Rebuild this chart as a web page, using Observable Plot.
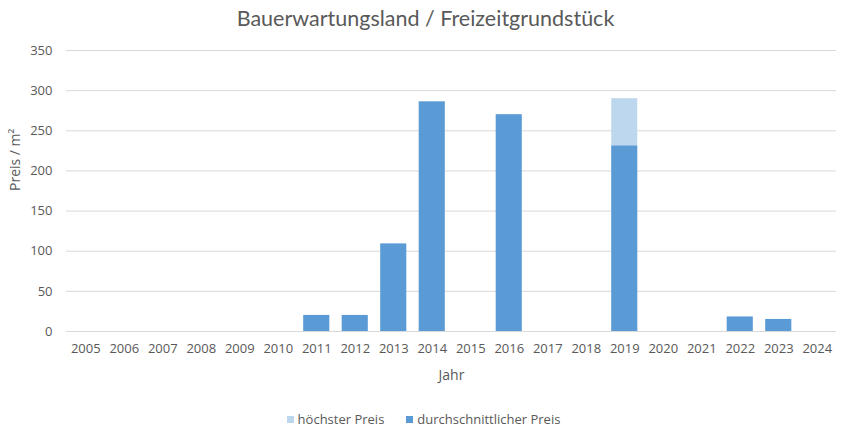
<!DOCTYPE html>
<html><head><meta charset="utf-8">
<script src="https://cdn.jsdelivr.net/npm/d3@7"></script>
<script src="https://cdn.jsdelivr.net/npm/@observablehq/plot@0.6"></script>
<style>
body{margin:0;background:#fff;font-family:"Open Sans",sans-serif;color:#595959;}
#title{height:36px;line-height:36px;text-align:center;font-family:Lato,"Open Sans",sans-serif;font-size:21.5px;color:#595959;padding-left:4px;}
#legend{display:flex;justify-content:center;gap:22px;font-size:13px;margin-top:14px;padding-left:0px;}
#legend span{display:inline-flex;align-items:center;}
#legend i{display:inline-block;width:7px;height:7px;margin-right:4px;}
</style></head><body>
<div id="title">Bauerwartungsland / Freizeitgrundstück</div>
<div id="chart"></div>
<div id="legend"></div>
<script>
const years = ["2005","2006","2007","2008","2009","2010","2011","2012","2013","2014","2015","2016","2017","2018","2019","2020","2021","2022","2023","2024"];
const highestPrice = [null,null,null,null,null,null,20,20,109,286,null,270,null,null,290,null,null,18,15,null];
const avgPrice     = [null,null,null,null,null,null,20,20,109,286,null,270,null,null,231,null,null,18,15,null];
const yTicks = [0,50,100,150,200,250,300,350];
const seriesNames = ["höchster Preis","durchschnittlicher Preis"];
const seriesColors = ["#bdd7ee","#5b9bd5"];

const hi = years.map((y,i)=>({year:y,value:highestPrice[i]})).filter(d=>d.value!=null);
const av = years.map((y,i)=>({year:y,value:avgPrice[i]})).filter(d=>d.value!=null);

const chart = Plot.plot({
  width:847, height:360,
  marginTop:14, marginBottom:65, marginLeft:66, marginRight:11,
  style:{fontFamily:"'Open Sans',sans-serif",fontSize:"13px",color:"#595959",background:"#fff"},
  x:{domain:years, paddingInner:0.325, paddingOuter:0.1625, round:false, label:null, tickSize:0, tickPadding:12},
  y:{domain:[0,350], ticks:yTicks, label:null, tickSize:0, tickPadding:14},
  marks:[
    Plot.gridY(yTicks,{stroke:"#d9d9d9",strokeOpacity:1,strokeWidth:1}),
    Plot.barY(hi,{x:"year",y:"value",fill:seriesColors[0]}),
    Plot.barY(av,{x:"year",y:"value",fill:seriesColors[1]}),
    Plot.axisX({tickSize:0,tickPadding:12,label:null,fontSize:13}),
    Plot.axisY(yTicks,{tickSize:0,tickPadding:14,label:null,fontSize:13}),
    Plot.text(["Jahr"],{frameAnchor:"bottom",dy:44,lineAnchor:"middle",fontSize:14,fill:"#595959"}),
    Plot.text(["Preis / m²"],{frameAnchor:"left",dx:-51,rotate:-90,lineAnchor:"middle",fontSize:14,fill:"#595959"})
  ]
});
document.getElementById("chart").appendChild(chart);
const lg = document.getElementById("legend");
seriesNames.forEach((n,i)=>{
  const s=document.createElement("span");
  s.innerHTML=`<i style="background:${seriesColors[i]}"></i>${n}`;
  lg.appendChild(s);
});
</script>
</body></html>
